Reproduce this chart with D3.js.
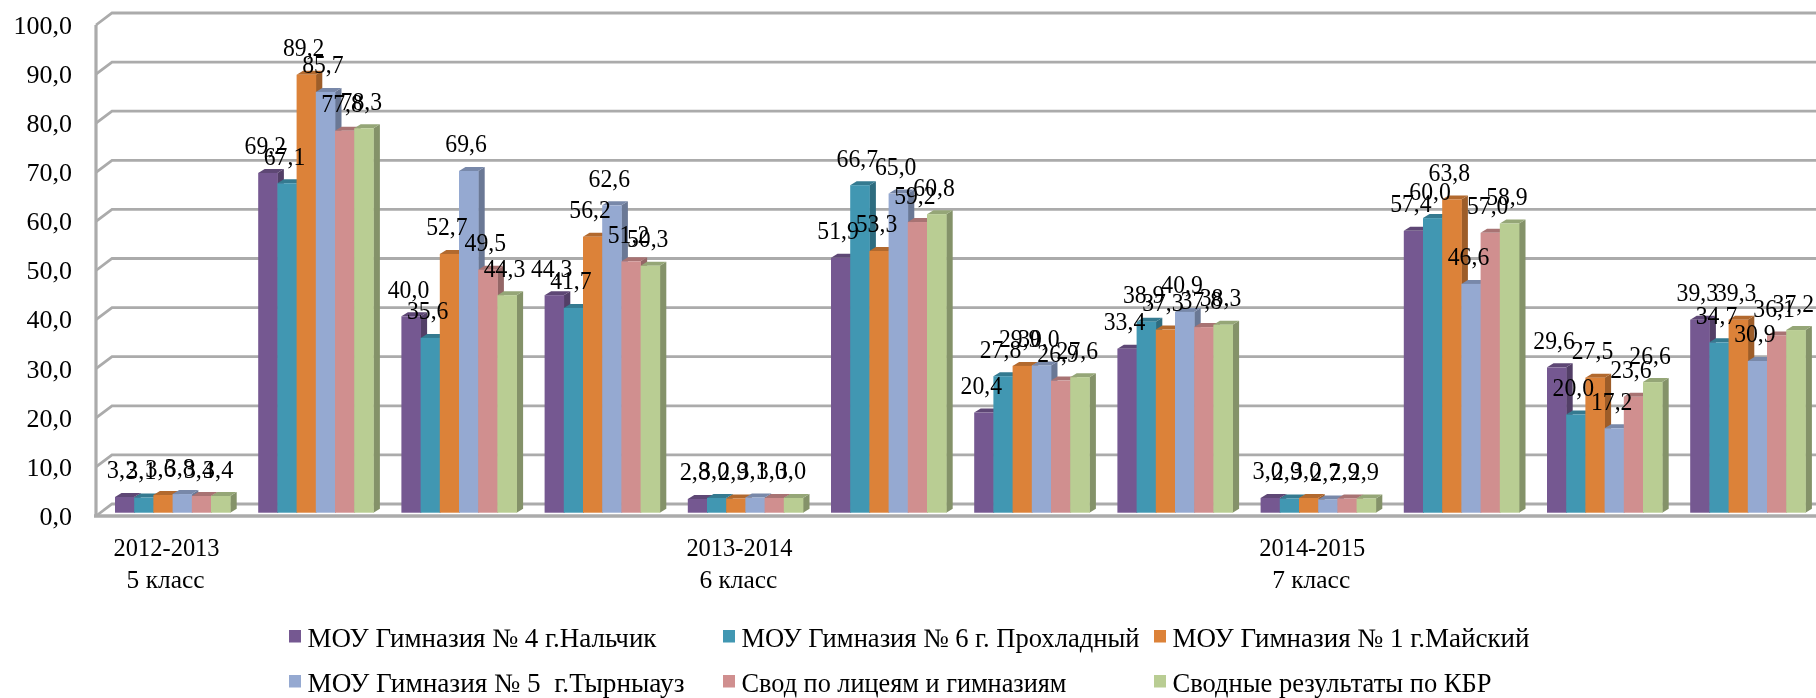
<!DOCTYPE html>
<html lang="ru">
<head>
<meta charset="utf-8">
<title>Chart</title>
<script src="https://cdn.jsdelivr.net/npm/d3@7/dist/d3.min.js"></script>
<style>
html,body{margin:0;padding:0;background:#fff;overflow:hidden}
svg{display:block;filter:blur(0.7px)}
text{font-family:"Liberation Serif",serif;fill:#000;white-space:pre}
</style>
</head>
<body>
<svg id="chart" width="1816" height="698"></svg>
<script>
const groupLabels = [["2012-2013","5 класс"],null,null,null,["2013-2014","6 класс"],null,null,null,["2014-2015","7 класс"],null,null,null];
const gimn4   = [3.2,69.2,40.0,44.3,2.8,51.9,20.4,33.4,3.0,57.4,29.6,39.3];
const gimn6   = [3.1,67.1,35.6,41.7,3.0,66.7,27.8,38.9,2.9,60.0,20.0,34.7];
const gimn1   = [3.6,89.2,52.7,56.2,2.9,53.3,29.9,37.3,3.0,63.8,27.5,39.3];
const gimn5   = [3.8,85.7,69.6,62.6,3.1,65.0,30.0,40.9,2.7,46.6,17.2,30.9];
const svodLic = [3.4,77.8,49.5,51.2,3.0,59.2,26.9,37.8,2.9,57.0,23.6,36.1];
const svodKbr = [3.4,78.3,44.3,50.3,3.0,60.8,27.6,38.3,2.9,58.9,26.6,37.2];
const seriesNames = ["МОУ Гимназия № 4 г.Нальчик","МОУ Гимназия № 6 г. Прохладный","МОУ Гимназия № 1 г.Майский","МОУ Гимназия № 5  г.Тырныауз","Свод по лицеям и гимназиям","Сводные результаты по КБР"];
const seriesValues = [gimn4,gimn6,gimn1,gimn5,svodLic,svodKbr];
const tickValues = [0,10,20,30,40,50,60,70,80,90,100];

const frontColors = ["#755891","#4197b2","#dc8239","#95a9d1","#d08f8f","#b9cd93"];
const svg = d3.select("#chart");
const W = 1816, depthX = 16, depthY = 12, barDX = 6.5, barDY = 4;
const wallX = 96;
const yFront = d3.scaleLinear().domain([0,100]).range([516,25]);
const yBar = d3.scaleLinear().domain([0,100]).range([512.7,21.7]);
const fmt = v => d3.format(".1f")(v).replace(".",",");

const xGroup = d3.scaleBand().domain(d3.range(groupLabels.length)).range([101,101+143.2*12]);
const xBar = d3.scaleBand().domain(d3.range(seriesNames.length)).range([14,129.2]);

// walls and gridlines
const grid = svg.append("g").attr("fill","none").attr("stroke","#ababab").attr("stroke-width",2.8);
tickValues.forEach(v=>{
  const f = yFront(v);
  grid.append("path").attr("d",`M${wallX},${f}L${wallX+depthX},${f-depthY}L${W},${f-depthY}`);
});
grid.append("line").attr("x1",wallX).attr("x2",wallX).attr("y1",yFront(100)).attr("y2",yFront(0)).attr("stroke-width",3.2);
grid.append("line").attr("x1",wallX-2).attr("x2",W).attr("y1",yFront(0)).attr("y2",yFront(0)).attr("stroke-width",3.6);

// y axis labels
const axis = svg.append("g").attr("transform",`translate(${wallX},0)`)
  .call(d3.axisLeft(yFront).tickValues(tickValues).tickSize(0).tickPadding(24).tickFormat(fmt));
axis.select(".domain").remove();
axis.selectAll("text").style("font-size","26px").style("font-family",'"Liberation Serif",serif').attr("fill","#000");

// 3D bars
const barsG = svg.append("g");
groupLabels.forEach((_,g)=>{
  seriesValues.forEach((vals,s)=>{
    const x0 = xGroup(g)+xBar(s), w = xBar.bandwidth(), x1 = x0+w;
    const top = yBar(vals[g]), base = yBar(0);
    const c = d3.color(frontColors[s]);
    const b = barsG.append("g");
    b.append("path").attr("fill",c.darker(0.95).formatHex())
      .attr("d",d3.line()([[x1,top],[x1+barDX,top-barDY],[x1+barDX,base-barDY],[x1,base]])+"Z");
    b.append("path").attr("fill",c.darker(0.6).formatHex())
      .attr("d",d3.line()([[x0,top],[x0+barDX,top-barDY],[x1+barDX,top-barDY],[x1,top]])+"Z");
    b.append("rect").attr("x",x0).attr("y",top).attr("width",w+0.4).attr("height",base-top).attr("fill",c.formatHex());
  });
});

// value labels
const labels = svg.append("g").attr("text-anchor","middle").style("font-size","25.5px");
groupLabels.forEach((_,g)=>{
  seriesValues.forEach((vals,s)=>{
    const t = fmt(vals[g]);
    labels.append("text")
      .attr("x",xGroup(g)+xBar(s)+xBar.bandwidth()/2-2.5)
      .attr("y",yBar(vals[g])-18.5)
      .attr("textLength",t.length===4?41.5:30.5).attr("lengthAdjust","spacingAndGlyphs")
      .text(t);
  });
});

// category labels
const catWidths = [106,78];
const cats = svg.append("g").attr("text-anchor","middle").style("font-size","25.5px");
groupLabels.forEach((lab,g)=>{
  if(!lab) return;
  const cx = xGroup(g)+xGroup.bandwidth()/2-6;
  cats.append("text").attr("x",cx).attr("y",556).attr("textLength",catWidths[0]).attr("lengthAdjust","spacingAndGlyphs").text(lab[0]);
  cats.append("text").attr("x",cx-1).attr("y",587.5).attr("textLength",catWidths[1]).attr("lengthAdjust","spacingAndGlyphs").text(lab[1]);
});

// legend
const legendCols = [289,723,1154], legendRows = [647,692];
const legendWidths = [349,398,357,377,325,319];
const legend = svg.append("g").style("font-size","26.5px");
seriesNames.forEach((name,i)=>{
  const cx = legendCols[i%3], by = legendRows[Math.floor(i/3)];
  legend.append("rect").attr("x",cx).attr("y",by-17).attr("width",12).attr("height",12.5).attr("fill",frontColors[i]);
  legend.append("text").attr("x",cx+18.5).attr("y",by).attr("textLength",legendWidths[i]).attr("lengthAdjust","spacingAndGlyphs").text(name);
});
</script>
</body>
</html>
